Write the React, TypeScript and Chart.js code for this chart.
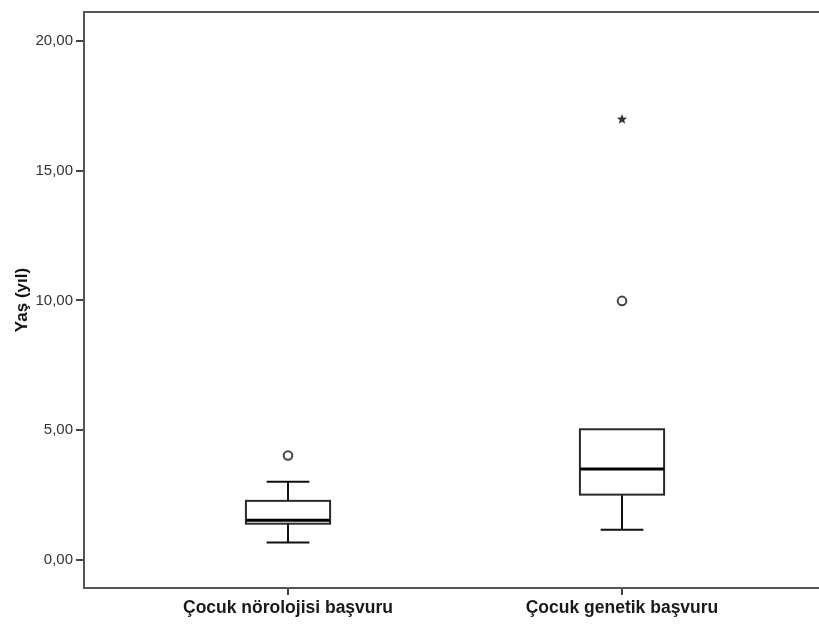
import React, { useEffect, useRef } from "react";
import { Chart, registerables } from "chart.js";
Chart.register(...registerables);

const categories = ["Çocuk nörolojisi başvuru", "Çocuk genetik başvuru"];
const categoryPositions = [1, 2];
const whiskerLow = [0.66, 1.16];
const q1 = [1.39, 2.51];
const median = [1.52, 3.5];
const q3 = [2.27, 5.03];
const whiskerHigh = [3.01, 5.03];
const outliers = [[4.02], [9.98]];
const extremes = [[], [16.99]];
const yTicks = [0, 5, 10, 15, 20];
const yTitle = "Yaş (yıl)";

const FONT = "'Liberation Sans', Arial, sans-serif";

function drawStar(ctx: CanvasRenderingContext2D, cx: number, cy: number) {
  ctx.fillStyle = "#333";
  ctx.beginPath();
  const ro = 5.5, ri = 2.3;
  for (let i = 0; i < 10; i++) {
    const r = i % 2 === 0 ? ro : ri;
    const a = -Math.PI / 2 + (i * Math.PI) / 5;
    const x = cx + r * Math.cos(a);
    const y = cy + 0.3 + r * Math.sin(a);
    if (i === 0) ctx.moveTo(x, y);
    else ctx.lineTo(x, y);
  }
  ctx.closePath();
  ctx.fill();
}

const boxPlugin = {
  id: "boxPlugin",
  afterDatasetsDraw(chart: any) {
    const { ctx, scales, chartArea } = chart;
    const xs = scales.x;
    const ys = scales.y;
    ctx.save();
    // top frame line
    ctx.strokeStyle = "#555";
    ctx.lineWidth = 2;
    ctx.beginPath();
    ctx.moveTo(chartArea.left - 1, chartArea.top);
    ctx.lineTo(chartArea.right, chartArea.top);
    ctx.stroke();

    const boxHalf = 0.126;
    const capHalf = 0.064;
    categoryPositions.forEach((pos, i) => {
      const xc = xs.getPixelForValue(pos);
      const xl = xs.getPixelForValue(pos - boxHalf);
      const xr = xs.getPixelForValue(pos + boxHalf);
      const cl = xs.getPixelForValue(pos - capHalf);
      const cr = xs.getPixelForValue(pos + capHalf);
      const yq1 = ys.getPixelForValue(q1[i]);
      const yq3 = ys.getPixelForValue(q3[i]);
      const ym = ys.getPixelForValue(median[i]);
      const ywl = ys.getPixelForValue(whiskerLow[i]);
      const ywh = ys.getPixelForValue(whiskerHigh[i]);
      ctx.strokeStyle = "#111";
      ctx.lineWidth = 2;
      ctx.beginPath();
      ctx.moveTo(xc, yq1);
      ctx.lineTo(xc, ywl);
      ctx.moveTo(cl, ywl);
      ctx.lineTo(cr, ywl);
      if (whiskerHigh[i] > q3[i]) {
        ctx.moveTo(xc, yq3);
        ctx.lineTo(xc, ywh);
        ctx.moveTo(cl, ywh);
        ctx.lineTo(cr, ywh);
      }
      ctx.stroke();
      ctx.strokeStyle = "#2a2a2a";
      ctx.lineWidth = 2;
      ctx.strokeRect(xl, yq3, xr - xl, yq1 - yq3);
      ctx.strokeStyle = "#000";
      ctx.lineWidth = 3;
      ctx.beginPath();
      ctx.moveTo(xl, ym);
      ctx.lineTo(xr, ym);
      ctx.stroke();

      // outliers (circles)
      outliers[i].forEach((v) => {
        const y = ys.getPixelForValue(v);
        ctx.beginPath();
        ctx.arc(xc, y, 4.3, 0, Math.PI * 2);
        ctx.fillStyle = "#fff";
        ctx.fill();
        ctx.strokeStyle = "#444";
        ctx.lineWidth = 2;
        ctx.stroke();
      });
      // extremes (stars)
      extremes[i].forEach((v) => {
        drawStar(ctx, xc, ys.getPixelForValue(v));
      });
    });
    ctx.restore();
  },
};

export default function App() {
  const ref = useRef<HTMLCanvasElement>(null);
  useEffect(() => {
    const chart = new Chart(ref.current!, {
      type: "scatter",
      data: { datasets: [] },
      plugins: [boxPlugin],
      options: {
        responsive: false,
        animation: false,
        events: [],
        layout: { padding: { top: 9, left: 0, right: 0, bottom: 0 } },
        plugins: { legend: { display: false }, tooltip: { enabled: false } },
        scales: {
          x: {
            type: "linear",
            min: 0.3892,
            max: 2.5898,
            afterBuildTicks: (s: any) => {
              s.ticks = categoryPositions.map((v) => ({ value: v }));
            },
            afterFit: (s: any) => {
              s.height = 38;
            },
            ticks: {
              autoSkip: false,
              maxRotation: 0,
              padding: 3,
              color: "#1a1a1a",
              font: { family: FONT, size: 17.5, weight: "bold" },
              callback: (v: any) => {
                const idx = categoryPositions.indexOf(Number(v));
                return idx >= 0 ? categories[idx] : "";
              },
            },
            grid: { drawOnChartArea: false, drawTicks: true, tickLength: 7, color: "#444", lineWidth: 2 },
            border: { display: true, color: "#555", width: 2 },
          },
          y: {
            type: "linear",
            min: -1.09,
            max: 21.12,
            afterBuildTicks: (s: any) => {
              s.ticks = yTicks.map((v) => ({ value: v }));
            },
            afterFit: (s: any) => {
              s.width = 84;
            },
            ticks: {
              padding: 3,
              color: "#333",
              font: { family: FONT, size: 15 },
              callback: (v: any) => Number(v).toFixed(2).replace(".", ","),
            },
            grid: { drawOnChartArea: false, drawTicks: true, tickLength: 8, color: "#444", lineWidth: 2 },
            border: { display: true, color: "#555", width: 2 },
            title: {
              display: true,
              text: yTitle,
              color: "#111",
              font: { family: FONT, size: 17, weight: "bold" },
              padding: { top: 12, bottom: 0 },
            },
          },
        },
      },
    });
    return () => chart.destroy();
  }, []);
  return (
    <div style={{ position: "fixed", left: 0, top: 0, width: 819, height: 626, background: "#fff" }}>
      <canvas ref={ref} width={819} height={626} style={{ display: "block" }} />
    </div>
  );
}
